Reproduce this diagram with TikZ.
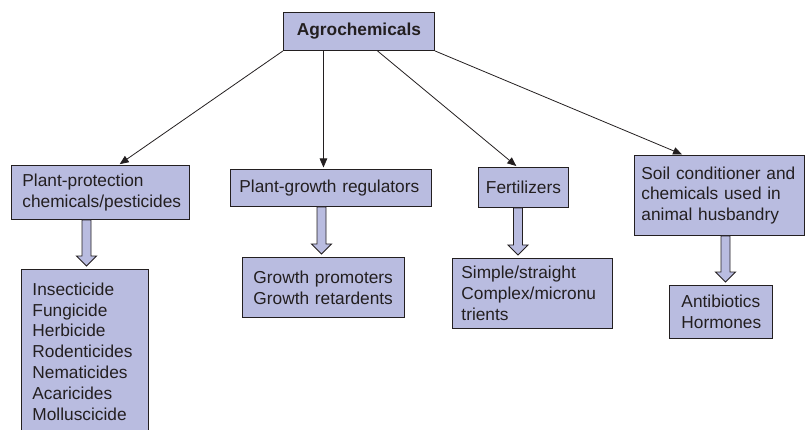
\documentclass[tikz,border=0pt]{standalone}
\usepackage{fontspec}
\setmainfont{Liberation Sans}
\usetikzlibrary{calc}
\usetikzlibrary{arrows.meta}
\definecolor{boxfill}{RGB}{185,188,224}
\definecolor{inkgray}{RGB}{35,31,32}
\tikzstyle{chembox}=[draw=inkgray, fill=boxfill, line width=0.9pt, anchor=north west, inner ysep=0pt, align=left, text=inkgray, font=\fontsize{17.3}{20.8}\selectfont]
\tikzstyle{thinarrow}=[draw=inkgray, line width=0.8pt, shorten >=1.5pt, -{Triangle[length=9pt,width=7.5pt]}]
\tikzstyle{hollowarrow}=[draw=inkgray, fill=boxfill, line width=0.9pt, line join=miter]
\newcommand{\blockarrow}[3]{% Syntax: {upper node}{lower node}{x of the shaft}
  \coordinate (ba) at (#3,0);
  \draw[hollowarrow] ($(ba |- #1.south)+(-4.5,0)$) -- ($(ba |- #2.north)+(-4.5,-13)$) -- ++(-5.5,0)
    -- ($(ba |- #2.north)+(0,-3)$) -- ++(10,-10) -- ++(-5.5,0) -- ($(ba |- #1.south)+(4.5,0)$) -- cycle;
}

\begin{document}
\begin{tikzpicture}[x=1pt,y=-1pt]
  \useasboundingbox (0,0) rectangle (805,430);
  \node[chembox, align=center, text width=139pt, inner xsep=6pt, minimum height=38pt,
        font=\fontsize{17.3}{20.8}\selectfont\bfseries] (agro) at (283,12) {Agrochemicals};
  % second row
  \node[chembox, text width=156pt, inner xsep=11pt, minimum height=54pt] (pp) at (11,165)
    {Plant-protection\\chemicals/pesticides};
  \node[chembox, text width=183pt, inner xsep=9pt, minimum height=37pt] (pgr) at (230,169)
    {Plant-growth regulators};
  \node[chembox, align=center, text width=80pt, inner xsep=5pt, minimum height=40pt] (fert) at (478,167)
    {Fertilizers};
  \node[chembox, text width=156pt, inner xsep=7pt, minimum height=80pt] (soil) at (634,155)
    {Soil conditioner and\\chemicals used in\\animal husbandry};
  % third row (the first box runs off the page)
  \node[chembox, text width=105pt, inner xsep=11pt, minimum height=164pt] (ins) at (21,269)
    {Insecticide\\Fungicide\\Herbicide\\Rodenticides\\Nematicides\\Acaricides\\Molluscicide\\[4pt]};
  \node[chembox, text width=140pt, inner xsep=11pt, minimum height=60pt] (grow) at (242,257)
    {Growth promoters\\Growth retardents};
  \node[chembox, text width=142pt, inner xsep=9pt, minimum height=70pt] (simple) at (452,258)
    {Simple/straight\\Complex/micronu\\trients};
  \node[chembox, text width=79pt, inner xsep=12pt, minimum height=53pt] (anti) at (669,285)
    {Antibiotics\\Hormones};

  \draw[thinarrow] (agro.south west) -- ([xshift=18pt]pp.north);
  \draw[thinarrow] ([xshift=-35.5pt]agro.south) -- ([xshift=-7.5pt]pgr.north);
  \draw[thinarrow] ([xshift=18.5pt]agro.south) -- ([xshift=-6pt]fert.north);
  \draw[thinarrow] (agro.south east) -- ([xshift=-36pt]soil.north);

  \blockarrow{pp}{ins}{86.5}
  \blockarrow{pgr}{grow}{321.5}
  \blockarrow{fert}{simple}{518}
  \blockarrow{soil}{anti}{725.5}
\end{tikzpicture}
\end{document}
